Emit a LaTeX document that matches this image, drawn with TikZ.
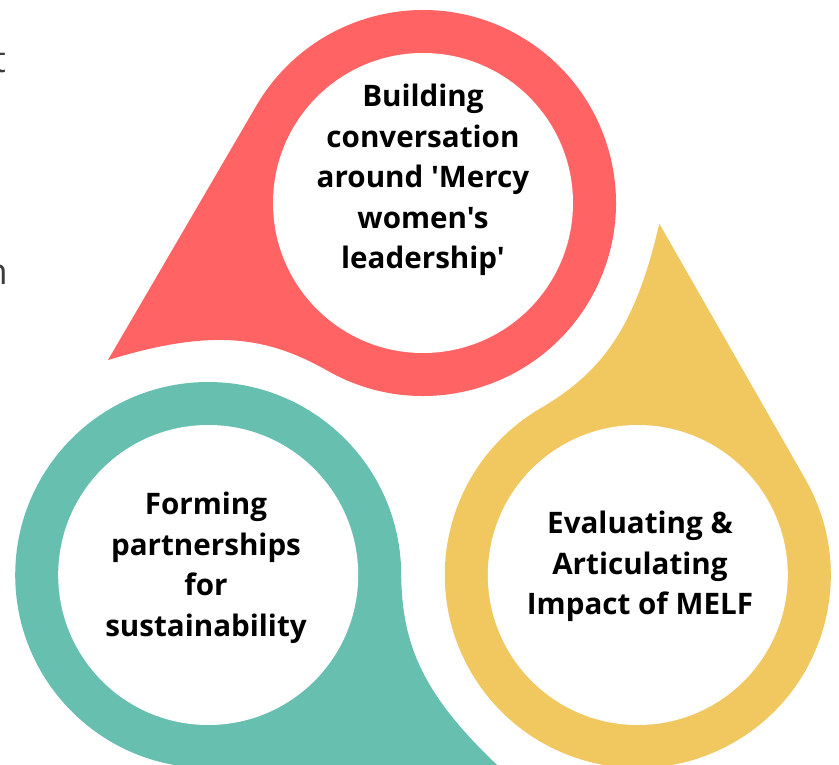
\documentclass[tikz,border=0pt]{standalone}
\usepackage{fontspec}
\setmainfont{Open Sans}[Ligatures=TeXOff]
\definecolor{dropred}{RGB}{255,99,99}
\definecolor{dropteal}{RGB}{103,191,176}
\definecolor{dropyellow}{RGB}{241,199,96}
\definecolor{fraggray}{RGB}{60,60,60}
\tikzset{
  ringhole/.style={circle, fill=white, minimum size=300pt, inner sep=0pt},
  labeltext/.style={align=center, font=\fontsize{29.6}{40.5}\selectfont\bfseries, inner sep=0pt, text=black},
  fragtext/.style={font=\fontsize{36}{40}\selectfont, text=fraggray, inner sep=0pt, anchor=base east}
}
\newcommand\teardrop[4]{%
  \begin{scope}[shift={(#2,#3)}, rotate=#4, x=1pt, y=1pt]
    \fill[#1] (352,0) -- (-56.8:193) arc[start angle=-56.8, end angle=-326, radius=193]
      .. controls (199,50) and (243.5,18) .. (352,0) -- cycle;
  \end{scope}}
\begin{document}
\begin{tikzpicture}[x=1pt, y=-1pt]
  \useasboundingbox (0,0) rectangle (839,765);
  \fill[white] (0,0) rectangle (839,765);
  % left cut-off text fragments
  \node[fragtext] (tfrag) at (6,73) {t};
  \node[fragtext] (nfrag) at (8,284) {n};
  % drops
  \teardrop{dropred}{423}{203}{206.5}
  \teardrop{dropyellow}{637.8}{575}{86.5}
  \teardrop{dropteal}{208.2}{575}{-33.5}
  % white holes
  \node[ringhole] (redhole) at (423,203) {};
  \node[ringhole] (yellowhole) at (637.8,575) {};
  \node[ringhole] (tealhole) at (208.2,575) {};
  % labels
  \node[labeltext] (redtext) at (423,180.2) {Building\\conversation\\around 'Mercy\\women's\\leadership'};
  \node[labeltext] (tealtext) at (206,568) {Forming\\partnerships\\for\\sustainability};
  \node[labeltext] (yellowtext) at (640,566.7) {Evaluating \&\\Articulating\\Impact of MELF};
\end{tikzpicture}
\end{document}
